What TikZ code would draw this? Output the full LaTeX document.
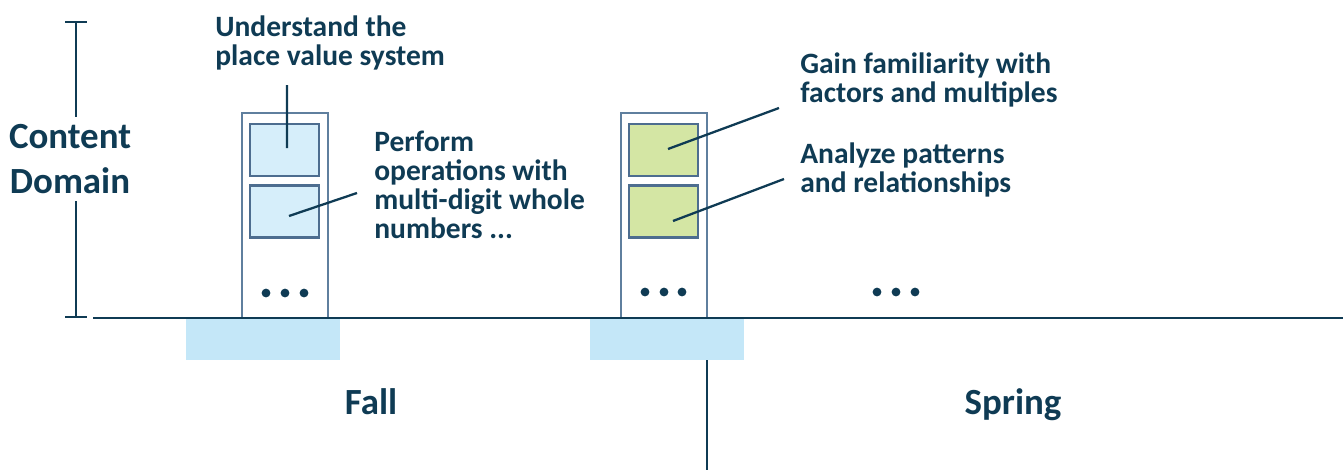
\documentclass[tikz,border=0pt]{standalone}
\usepackage{fontspec}
\setmainfont{Carlito}
\usepackage{tikz}
\definecolor{ink}{HTML}{0F3B54}
\definecolor{colline}{HTML}{5F7F9E}
\definecolor{boxline}{HTML}{4D6D8F}
\definecolor{fallfill}{HTML}{D6EEFA}
\definecolor{springfill}{HTML}{D4E6A4}
\definecolor{termfill}{HTML}{C4E7F8}

\begin{document}
\begin{tikzpicture}[x=0.02cm,y=-0.02cm,
  txt/.style={anchor=base west,align=left,inner sep=0,font=\fontsize{16.8}{16.5}\selectfont\bfseries,text=ink},
  bigtxt/.style={align=center,font=\fontsize{21}{25.6}\selectfont\bfseries,text=ink},
  unit/.style={draw=boxline,line width=1.4pt,minimum width=1.38cm,minimum height=1.04cm,inner sep=0},
  link/.style={ink,line width=1.3pt},
  dot/.style={ink}]
\useasboundingbox (0,0) rectangle (1343,470);
% term shading and timeline
\fill[termfill] (186,318) rectangle (340,360);
\fill[termfill] (590,318) rectangle (744,360);
\draw[colline,line width=1.1pt] (242,113) rectangle (328,318);
\draw[colline,line width=1.1pt] (621,113) rectangle (707,318);
\draw[ink,line width=1.6pt] (93,318) -- (1343,318);
\draw[ink,line width=1.2pt] (707,360) -- (707,470);
% content domain bracket
\node[bigtxt,inner sep=4pt] (dom) at (70,159) {Content\\Domain};
\coordinate (dtop) at (76,22); \coordinate (dbot) at (76,317);
\draw[ink,line width=1.2pt] (dtop) -- (dom.north -| dtop); \draw[ink,line width=1.2pt] (dbot) -- (dom.south -| dbot);
\draw[ink,line width=1.2pt] ([xshift=-6]dtop) -- ([xshift=6]dtop);
\draw[ink,line width=1.2pt] ([xshift=-6]dbot) -- ([xshift=6]dbot);
% units
\node[unit,fill=fallfill] (b1) at (284.5,150) {};
\node[unit,fill=fallfill] (b2) at (284.5,211.5) {};
\node[unit,fill=springfill] (b3) at (663.5,150) {};
\node[unit,fill=springfill] (b4) at (663.5,211.5) {};
\foreach \x in {266,285,304} \fill[dot] (\x,293) circle (2.5pt);
\foreach \x in {645,664,682} \fill[dot] (\x,292) circle (2.5pt);
\foreach \x in {877,896,915} \fill[dot] (\x,292) circle (2.5pt);
% labels
\node[txt] (t1) at (215,65) {Understand the\\place value system};
\node[txt] (t2) at (374,238) {Perform\\operations with\\multi-digit whole\\numbers ...};
\node[txt] (t3) at (800,102) {Gain familiarity with\\factors and multiples};
\node[txt] (t4) at (800,192) {Analyze patterns\\and relationships};
\coordinate (c1) at (287,85); \coordinate (c2) at (357,193);
\coordinate (c3) at (779,108); \coordinate (c4) at (784,179);
\draw[link] ([shift={(2.5,-2)}]b1.center) -- (c1);
\draw[link] ([shift={(4.5,4.5)}]b2.center) -- (c2);
\draw[link] ([shift={(4.5,-1)}]b3.center) -- (c3);
\draw[link] ([shift={(9.5,9.5)}]b4.center) -- (c4);
\node[bigtxt,anchor=base] (fall) at (371,414) {Fall};
\node[bigtxt,anchor=base] (spring) at (1013,414) {Spring};
\end{tikzpicture}
\end{document}
